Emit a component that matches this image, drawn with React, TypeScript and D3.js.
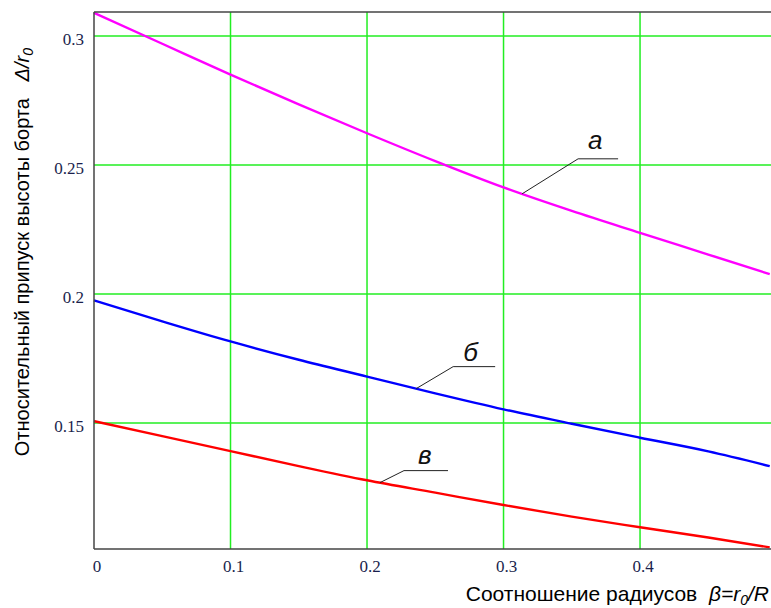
import React from "react";
import * as d3 from "d3";

const betaValues = [0, 0.05, 0.1, 0.15, 0.2, 0.25, 0.3, 0.35, 0.4, 0.45, 0.495];
const seriesA = [0.309, 0.297, 0.285, 0.2735, 0.2623, 0.2515, 0.2413, 0.2322, 0.2237, 0.2153, 0.2077];
const seriesB = [0.1975, 0.1894, 0.1816, 0.1745, 0.168, 0.1615, 0.1553, 0.1497, 0.1443, 0.139, 0.1333];
const seriesV = [0.1507, 0.1449, 0.1391, 0.1333, 0.1278, 0.123, 0.1182, 0.1137, 0.1096, 0.1056, 0.1018];
const xTicks = [0, 0.1, 0.2, 0.3, 0.4];
const yTicks = [0.15, 0.2, 0.25, 0.3];
const xTickLabels = ["0", "0.1", "0.2", "0.3", "0.4"];
const yTickLabels = ["0.15", "0.2", "0.25", "0.3"];
const seriesNames = ["а", "б", "в"];

const W = 771, H = 608;
const left = 94, right = 770, top = 12, bottom = 549;

export default function App() {
  const x = d3.scaleLinear().domain([0, 0.4952]).range([left, right]);
  const y = d3.scaleLinear().domain([0.10116, 0.3093]).range([bottom, top]);
  const line = d3.line<number>().x((_, i) => x(betaValues[i])).y(d => y(d)).curve(d3.curveMonotoneX);
  const series = [
    { data: seriesA, color: "#ff00ff" },
    { data: seriesB, color: "#0000ff" },
    { data: seriesV, color: "#ff0000" },
  ];
  const ann = [
    { s: 0, at: 0.3136, ex: 56, ey: -35, len: 40, lx: 10, ly: -10 },
    { s: 1, at: 0.236, ex: 37, ey: -22, len: 42, lx: 10, ly: -6 },
    { s: 2, at: 0.2095, ex: 24, ey: -12, len: 44, lx: 14, ly: -7 },
  ];
  const interp = (arr: number[], b: number) => d3.scaleLinear().domain(betaValues).range(arr)(b);
  const sans = "'Liberation Sans', Arial, sans-serif";
  const serif = "'Liberation Serif', 'Times New Roman', serif";
  return (
    <svg width={W} height={H} style={{ position: "absolute", left: 0, top: 0, background: "#fff" }}>
      <rect x={0} y={0} width={W} height={H} fill="#fff" />
      {xTicks.filter(t => t > 0).map(t => (
        <line key={"gx" + t} x1={x(t)} x2={x(t)} y1={top} y2={bottom} stroke="#22ee22" strokeWidth={1.5} />
      ))}
      {yTicks.map(t => (
        <line key={"gy" + t} x1={left} x2={right + 2} y1={y(t)} y2={y(t)} stroke="#22ee22" strokeWidth={1.5} />
      ))}
      {series.map((s, i) => (
        <path key={i} d={line(s.data) || ""} fill="none" stroke={s.color} strokeWidth={2.4} />
      ))}
      <line x1={left} x2={left} y1={top} y2={bottom} stroke="#444" strokeWidth={1.5} />
      <line x1={left} x2={W + 2} y1={bottom} y2={bottom} stroke="#444" strokeWidth={1.5} />
      <line x1={left} x2={W + 2} y1={top} y2={top} stroke="#444" strokeWidth={1.5} />
      {xTicks.map((t, i) => (
        <text key={"tx" + t} x={x(t) + 3} y={572} textAnchor="middle" fontFamily={serif} fontSize={17} fill="#1a1f4d">
          {xTickLabels[i]}
        </text>
      ))}
      {yTicks.map((t, i) => (
        <text key={"ty" + t} x={84} y={y(t) + 9} textAnchor="end" fontFamily={serif} fontSize={17} fill="#1a1f4d">
          {yTickLabels[i]}
        </text>
      ))}
      {ann.map(a => {
        const arr = series[a.s].data;
        const px = x(a.at), py = y(interp(arr, a.at));
        const ex = px + a.ex, ey = py + a.ey;
        return (
          <g key={"a" + a.s}>
            <polyline points={`${px},${py} ${ex},${ey} ${ex + a.len},${ey}`} fill="none" stroke="#222" strokeWidth={1} />
            <text x={ex + a.lx} y={ey + a.ly} fontFamily={sans} fontStyle="italic" fontSize={26} fill="#111">
              {seriesNames[a.s]}
            </text>
          </g>
        );
      })}
      <text x={769} y={601} textAnchor="end" fontFamily={sans} fontSize={21} fill="#000" xmlSpace="preserve">
        {"Соотношение радиусов  "}
        <tspan fontStyle="italic">β=r</tspan>
        <tspan fontStyle="italic" fontSize={14} dy={4}>0</tspan>
        <tspan fontStyle="italic" dy={-4}>/R</tspan>
      </text>
      <text transform="translate(29,48) rotate(-90)" textAnchor="end" fontFamily={sans} fontSize={20} fill="#000" xmlSpace="preserve">
        {"Относительный припуск высоты борта   "}
        <tspan fontStyle="italic">Δ/r</tspan>
        <tspan fontStyle="italic" fontSize={14} dy={4}>0</tspan>
      </text>
    </svg>
  );
}
